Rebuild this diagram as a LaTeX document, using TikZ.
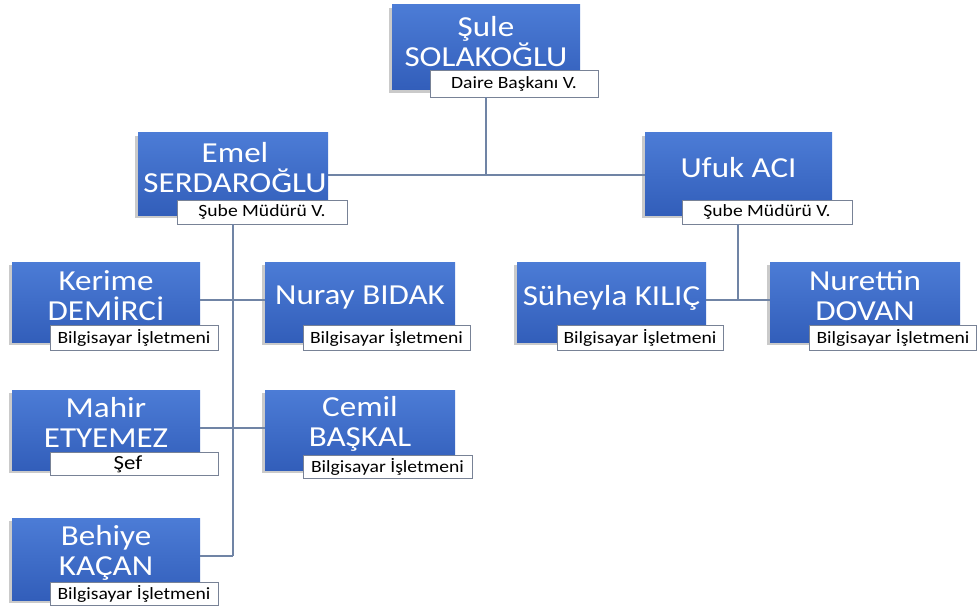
\documentclass[tikz,border=0pt]{standalone}
\usepackage{fontspec}
\setmainfont{Carlito}[FakeStretch=1.14]
\usetikzlibrary{shadows}
\definecolor{boxtop}{RGB}{76,124,214}
\definecolor{boxbot}{RGB}{50,94,186}
\definecolor{conn}{RGB}{112,132,165}
\definecolor{lborder}{RGB}{120,130,150}
\tikzset{
  pbox/.style={rectangle, top color=boxtop, bottom color=boxbot, draw=none,
    inner sep=0pt,
    drop shadow={shadow xshift=-3pt, shadow yshift=-3pt, opacity=0.35, fill=black!60}},
  ptext/.style={text=white, align=center, inner sep=0pt, font=\fontsize{29}{30}\selectfont},
  lbox/.style={rectangle, fill=white, draw=lborder, line width=0.9pt, inner sep=0pt,
    font=\fontsize{17.2}{18}\selectfont, text=black},
  cline/.style={draw=conn, line width=1.2pt}
}
\begin{document}
\begin{tikzpicture}[x=1pt,y=-1pt]
\useasboundingbox (0,0) rectangle (977,607);
% connectors (coordinates)
\coordinate (j1) at (486,175);
\coordinate (j2) at (233,556);
\coordinate (j3) at (738,300);
% boxes
\node[pbox, minimum width=188pt, minimum height=85pt] (sule) at (486,47.5) {};
\node[ptext] (sulet) at (486,42) {Şule\\SOLAKOĞLU};
\node[lbox, minimum width=168pt, minimum height=27pt] (sulel) at (514,83.5) {Daire Başkanı V.};

\node[pbox, minimum width=190pt, minimum height=82pt] (emel) at (233,174) {};
\node[ptext] (emelt) at (235,168) {Emel\\SERDAROĞLU};
\node[lbox, minimum width=170pt, minimum height=24pt] (emell) at (262,212) {Şube Müdürü V.};

\node[pbox, minimum width=187pt, minimum height=82pt] (ufuk) at (738.5,174) {};
\node[ptext] (ufukt) at (738.5,168) {Ufuk ACI};
\node[lbox, minimum width=170pt, minimum height=24pt] (ufukl) at (767,212) {Şube Müdürü V.};

\node[pbox, minimum width=188pt, minimum height=80pt] (kerime) at (106,302) {};
\node[ptext] (kerimet) at (106,296) {Kerime\\DEMİRCİ};
\node[lbox, minimum width=168pt, minimum height=25pt] (kerimel) at (134,337.5) {Bilgisayar İşletmeni};

\node[pbox, minimum width=190pt, minimum height=80pt] (nuray) at (360,302) {};
\node[ptext] (nurayt) at (360,298) {Nuray BIDAK};
\node[lbox, minimum width=167pt, minimum height=25pt] (nurayl) at (386.5,337.5) {Bilgisayar İşletmeni};

\node[pbox, minimum width=188pt, minimum height=80pt] (mahir) at (106,430) {};
\node[ptext] (mahirt) at (106,422) {Mahir\\ETYEMEZ};
\node[lbox, minimum width=168pt, minimum height=23pt, font=\fontsize{20}{21}\selectfont] (mahirl) at (134,464) {\hspace*{-12pt}Şef};

\node[pbox, minimum width=190pt, minimum height=80pt] (cemil) at (360,430) {};
\node[ptext] (cemilt) at (360,424) {Cemil\\BAŞKAL};
\node[lbox, minimum width=169pt, minimum height=23pt] (ceml) at (387.5,466.5) {Bilgisayar İşletmeni};

\node[pbox, minimum width=188pt, minimum height=82pt] (behiye) at (106,559) {};
\node[ptext] (behiyet) at (106,553) {Behiye\\KAÇAN};
\node[lbox, minimum width=168pt, minimum height=23pt] (behiyel) at (134,593.5) {Bilgisayar İşletmeni};

\node[pbox, minimum width=189pt, minimum height=80pt] (suheyla) at (611.5,302) {};
\node[ptext] (suheylat) at (611.5,298) {Süheyla KILIÇ};
\node[lbox, minimum width=166pt, minimum height=25pt] (suheylal) at (640,337.5) {Bilgisayar İşletmeni};

\node[pbox, minimum width=190pt, minimum height=80pt] (nurettin) at (865,302) {};
\node[ptext] (nurettint) at (865,296) {Nurettin\\DOVAN};
\node[lbox, minimum width=167pt, minimum height=25pt] (nurettinl) at (893,337.5) {Bilgisayar İşletmeni};

% connectors
\draw[cline] (j1 |- sulel.south) -- (j1);
\draw[cline] (emel.east |- j1) -- (ufuk.west |- j1);
\draw[cline] (j2 |- emell.south) -- (j2);
\draw[cline] (kerime.east |- 0,300) -- (nuray.west |- 0,300);
\draw[cline] (mahir.east |- 0,428) -- (cemil.west |- 0,428);
\draw[cline] (behiye.east |- j2) -- (j2);
\draw[cline] (j3 |- ufukl.south) -- (j3);
\draw[cline] (suheyla.east |- j3) -- (nurettin.west |- j3);
\end{tikzpicture}
\end{document}
